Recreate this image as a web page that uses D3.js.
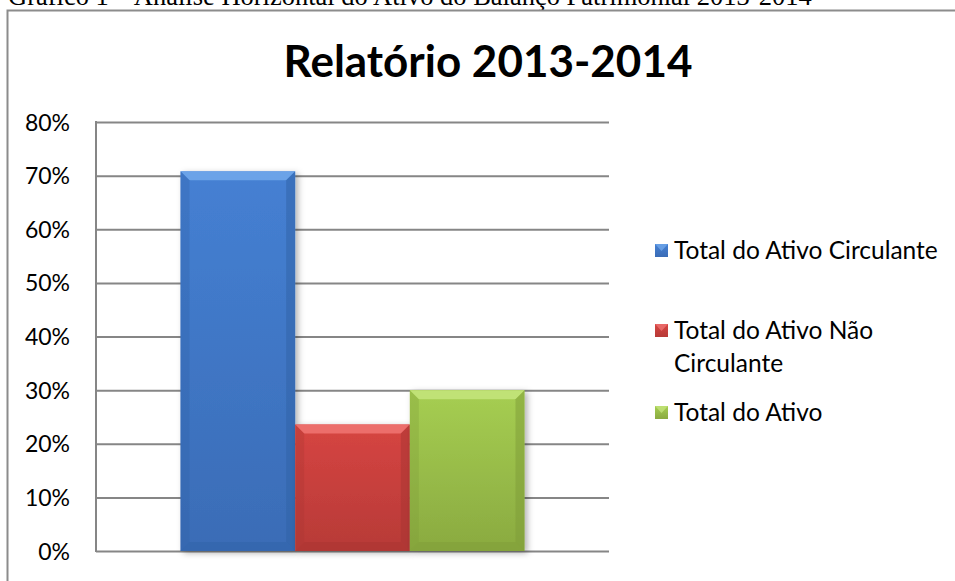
<!DOCTYPE html>
<html lang="pt">
<head>
<meta charset="UTF-8">
<title>Relatório 2013-2014</title>
<script src="https://d3js.org/d3.v7.min.js"></script>
<style>
	html, body { margin: 0; padding: 0; background: #fff; overflow: hidden; }
	svg { display: block; }
	.tick text { font-family: Lato, "Noto Sans", sans-serif; }
</style>
</head>
<body>
<svg id="chart" width="955" height="581"></svg>
<script>
// data
const caption = "Gráfico 1 – Análise Horizontal do Ativo do Balanço Patrimonial 2013-2014"
const title = "Relatório 2013-2014"
const series = ["Total do Ativo Circulante", "Total do Ativo Não Circulante", "Total do Ativo"]
const legendLines = [["Total do Ativo Circulante"], ["Total do Ativo Não", "Circulante"], ["Total do Ativo"]]
const values = [0.708, 0.236, 0.300]
const yTicks = [0, 0.1, 0.2, 0.3, 0.4, 0.5, 0.6, 0.7, 0.8]
const colors = [
	{ base: "#4580d3", light: "#6fa6ea", dark: "#2f61a6", bottom: "#3a6cb6" },
	{ base: "#d64542", light: "#ee7270", dark: "#a83431", bottom: "#b73a37" },
	{ base: "#a6ce52", light: "#c3e47a", dark: "#7e9c38", bottom: "#8aaa40" }
]

const svg = d3.select("#chart")
const font = 'Lato, "Noto Sans", sans-serif'

const margin = { left: 96, right: 609, top: 122, bottom: 551 }

// caption above the frame (cut off at the top, as in the source)
svg.append("text")
	.attr("x", 8).attr("y", 5)
	.attr("font-family", '"Liberation Serif", "DejaVu Serif", serif')
	.attr("font-size", 26.5)
	.attr("fill", "#000")
	.text(caption)

// chart frame
svg.append("rect")
	.attr("x", 7.5).attr("y", 10.5)
	.attr("width", 1000).attr("height", 700)
	.attr("fill", "#fff")
	.attr("stroke", "#8c8c8c")
	.attr("stroke-width", 2)

svg.append("text")
	.attr("x", 488).attr("y", 77)
	.attr("text-anchor", "middle")
	.attr("font-family", font)
	.attr("font-weight", "bold")
	.attr("font-size", 44)
	.attr("fill", "#000")
	.text(title)

const y = d3.scaleLinear().domain([0, 0.8]).range([margin.bottom, margin.top])
const x0 = d3.scaleBand().domain([""]).range([margin.left, margin.right]).paddingInner(0).paddingOuter(0.2456)
const x1 = d3.scaleBand().domain(series).range([0, x0.bandwidth()])

// gridlines + labels
const yAxis = svg.append("g")
	.attr("transform", `translate(${margin.left},0)`)
	.call(d3.axisLeft(y).tickValues(yTicks).tickFormat(d3.format(".0%")).tickSize(-(margin.right - margin.left)).tickPadding(26))
yAxis.select(".domain").remove()
yAxis.selectAll(".tick line").attr("stroke", "#868686").attr("stroke-width", 2)
yAxis.selectAll(".tick text").attr("font-size", 23).attr("fill", "#000").attr("dy", "0.35em")

svg.append("line")
	.attr("x1", margin.left).attr("x2", margin.left)
	.attr("y1", margin.top - 1).attr("y2", margin.bottom + 1)
	.attr("stroke", "#868686").attr("stroke-width", 2)

// shadow filter + gradients for the bars
const defs = svg.append("defs")
const shadow = defs.append("filter").attr("id", "shadow").attr("x", "-20%").attr("y", "-20%").attr("width", "140%").attr("height", "140%")
shadow.append("feDropShadow").attr("dx", 3).attr("dy", 2).attr("stdDeviation", 3).attr("flood-color", "#000").attr("flood-opacity", 0.3)

colors.forEach(function (c, i) {
	const g = defs.append("linearGradient").attr("id", "grad" + i).attr("x1", 0).attr("y1", 0).attr("x2", 0).attr("y2", 1)
	g.append("stop").attr("offset", "0%").attr("stop-color", c.base)
	g.append("stop").attr("offset", "100%").attr("stop-color", c.bottom)
})

const bars = svg.append("g").selectAll("g.bar")
	.data(values.map((v, i) => ({ name: series[i], value: v, i: i })))
	.join("g")
	.classed("bar", true)

const bv = 9 // bevel size
function bx(d) { return x0("") + x1(d.name) }
function bw() { return x1.bandwidth() }

bars.append("rect")
	.attr("x", bx).attr("y", d => y(d.value))
	.attr("width", bw()).attr("height", d => y(0) - y(d.value))
	.attr("fill", d => `url(#grad${d.i})`)
	.attr("filter", "url(#shadow)")

// bevel edges
bars.append("polygon")
	.attr("points", function (d) {
		const x = bx(d), t = y(d.value), w = bw()
		return [[x, t], [x + w, t], [x + w - bv, t + bv], [x + bv, t + bv]].join(" ")
	})
	.attr("fill", d => colors[d.i].light).attr("opacity", 0.9)
bars.append("polygon")
	.attr("points", function (d) {
		const x = bx(d), t = y(d.value), b = y(0)
		return [[x, t], [x + bv, t + bv], [x + bv, b - bv], [x, b]].join(" ")
	})
	.attr("fill", d => colors[d.i].dark).attr("opacity", 0.3)
bars.append("polygon")
	.attr("points", function (d) {
		const x = bx(d), t = y(d.value), b = y(0), w = bw()
		return [[x + w, t], [x + w - bv, t + bv], [x + w - bv, b - bv], [x + w, b]].join(" ")
	})
	.attr("fill", d => colors[d.i].dark).attr("opacity", 0.5)
bars.append("polygon")
	.attr("points", function (d) {
		const x = bx(d), b = y(0), w = bw()
		return [[x, b], [x + bv, b - bv], [x + w - bv, b - bv], [x + w, b]].join(" ")
	})
	.attr("fill", d => colors[d.i].dark).attr("opacity", 0.45)

// legend
const legendY = [250, 330, 412]
const legend = svg.append("g").selectAll("g")
	.data(legendLines)
	.join("g")
	.attr("transform", (d, i) => `translate(655,${legendY[i]})`)

legend.append("rect")
	.attr("x", 0).attr("y", -6).attr("width", 13).attr("height", 13)
	.attr("fill", (d, i) => `url(#grad${i})`)
legend.append("polygon")
	.attr("points", "0,-6 13,-6 6.5,1")
	.attr("fill", (d, i) => colors[i].light)
	.attr("opacity", 0.8)

legend.selectAll("text")
	.data(d => d)
	.join("text")
	.attr("x", 19)
	.attr("y", (d, j) => j * 33)
	.attr("dy", "0.35em")
	.attr("font-family", font)
	.attr("font-size", 24.5)
	.attr("fill", "#000")
	.text(d => d)
</script>
</body>
</html>
